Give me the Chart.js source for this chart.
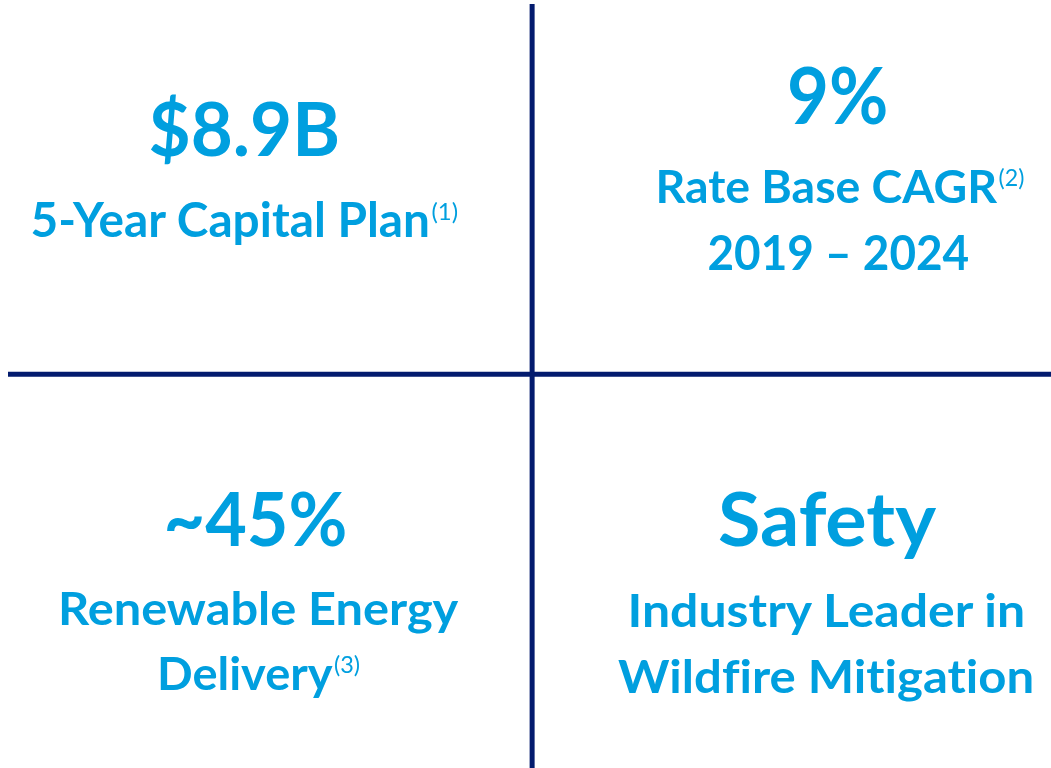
<!DOCTYPE html>
<html>
<head>
<meta charset="utf-8">
<title>Key highlights</title>
<script src="https://cdn.jsdelivr.net/npm/chart.js@4.4.1/dist/chart.umd.min.js"></script>
<style>
  html, body { margin: 0; padding: 0; background: #ffffff; width: 1051px; height: 768px; overflow: hidden; }
  #wrap { position: relative; width: 1051px; height: 768px; }
  #chart { position: absolute; left: 0; top: 0; }
  .t { position: absolute; white-space: nowrap; color: #009fdf; font-family: Lato, "Open Sans", sans-serif;
       font-weight: 700; line-height: 1; transform-origin: center top;
       font-variant-ligatures: none; font-feature-settings: "liga" 0, "dlig" 0, "clig" 0; }
  .t .sup { font-weight: 400; font-size: 0.5em; position: relative; top: -0.72em; margin-left: 0.06em; }
  .t .mark { display: inline-block; width: 0; height: 0; }
</style>
</head>
<body>
<div id="wrap">
  <canvas id="chart" width="1051" height="768"></canvas>
</div>
<script>
// ---- data ----
const headlines = ['$8.9B', '9%', '~45%', 'Safety'];
const subtitleLines = [
  ['5-Year Capital Plan'],
  ['Rate Base CAGR', '2019 – 2024'],
  ['Renewable Energy', 'Delivery'],
  ['Industry Leader in', 'Wildfire Mitigation']
];
const footnotes = ['(1)', '(2)', '(3)', null];
const footnoteLine = [0, 0, 1, null];
// quadrant dividers in quadrant space (two columns x two rows)
const dividerX = [1];
const dividerY = [1];

// ---- layout (pixels) ----
const AXIS_X_MAX = 1.99, AXIS_Y_MAX = 1.94;
const LATO_CAP = 0.7165;
// per quadrant: list of line boxes [centerX, baselineY, capHeight, targetWidth]; first is the headline
const lineBoxes = [
  [[244, 156, 54, 192], [244, 237, 34, 428]],
  [[837.5, 124, 56, 101], [839.5, 203, 33, 369], [838, 270, 34, 262]],
  [[255, 546, 54, 184], [258, 625, 33, 400], [258, 690, 33, 203]],
  [[827, 546, 54, 218], [826, 627, 33, 398], [826, 693, 33, 416]]
];

// ---- chart: the cross dividers ----
const datasets = [];
dividerX.forEach(v => datasets.push({
  data: [{ x: v, y: 0 }, { x: v, y: AXIS_Y_MAX }]
}));
dividerY.forEach(v => datasets.push({
  data: [{ x: 0, y: v }, { x: AXIS_X_MAX, y: v }]
}));
datasets.forEach(d => Object.assign(d, {
  showLine: true, borderColor: '#031b6e', borderWidth: 5, pointRadius: 0,
  pointHoverRadius: 0, borderCapStyle: 'butt', fill: false, tension: 0
}));

new Chart(document.getElementById('chart'), {
  type: 'scatter',
  data: { datasets },
  options: {
    responsive: false,
    animation: false,
    events: [],
    layout: { padding: { left: 8, top: 4, right: 0, bottom: 0 } },
    scales: {
      x: { type: 'linear', min: 0, max: AXIS_X_MAX, display: false },
      y: { type: 'linear', min: 0, max: AXIS_Y_MAX, display: false }
    },
    plugins: { legend: { display: false }, tooltip: { enabled: false } }
  }
});

// ---- text ----
const wrap = document.getElementById('wrap');
const items = [];
headlines.forEach((h, q) => {
  const lines = [h].concat(subtitleLines[q]);
  lines.forEach((txt, i) => {
    const div = document.createElement('div');
    div.className = 't';
    div.appendChild(document.createTextNode(txt));
    if (i > 0 && footnotes[q] && footnoteLine[q] === i - 1) {
      const s = document.createElement('span');
      s.className = 'sup';
      s.textContent = footnotes[q];
      div.appendChild(s);
    }
    const mk = document.createElement('span');
    mk.className = 'mark';
    div.appendChild(mk);
    wrap.appendChild(div);
    items.push({ div, mk, box: lineBoxes[q][i] });
  });
});

function layoutText() {
  items.forEach(({ div, mk, box }) => {
    const [cx, base, cap, w] = box;
    div.style.transform = 'none';
    div.style.fontSize = (cap / LATO_CAP).toFixed(2) + 'px';
    const nat = div.offsetWidth;
    const bOff = mk.offsetTop;
    div.style.left = (cx - nat / 2) + 'px';
    div.style.top = (base - bOff) + 'px';
    div.style.transform = 'scaleX(' + (w / nat).toFixed(4) + ')';
  });
}
layoutText();
if (document.fonts && document.fonts.ready) document.fonts.ready.then(layoutText);
</script>
</body>
</html>
